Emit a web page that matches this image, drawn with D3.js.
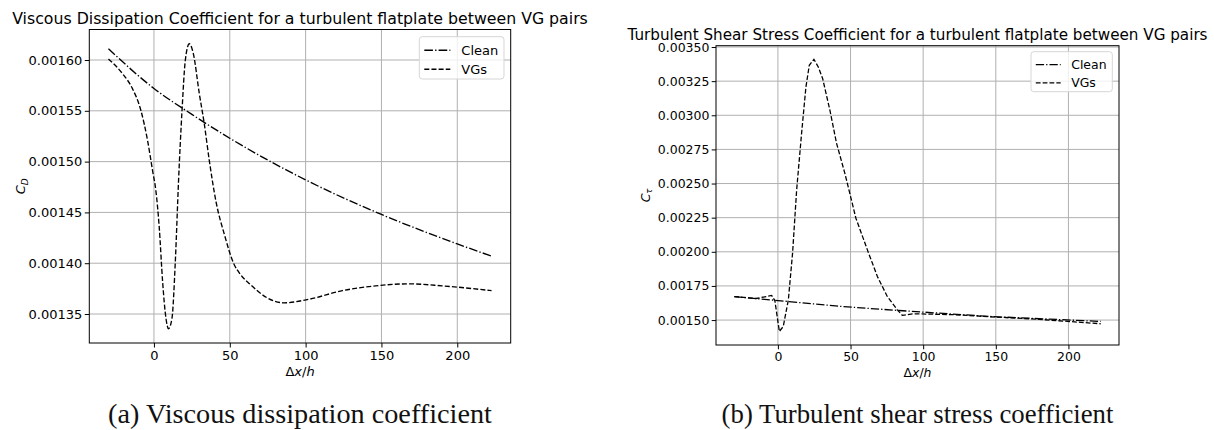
<!DOCTYPE html>
<html>
<head>
<meta charset="utf-8">
<script src="https://cdn.jsdelivr.net/npm/d3@7"></script>
<style>
  body { margin: 0; background: #fff; }
  svg { display: block; font-family: "DejaVu Sans", sans-serif; }
</style>
</head>
<body>
<svg id="chart" width="1214" height="430"></svg>
<script>
// ---------------------------------------------------------------
// DATA
// ---------------------------------------------------------------
const xTicks = [0, 50, 100, 150, 200];

// (a) viscous dissipation coefficient
const cdCleanX = [-30, 0, 25, 50, 100, 150, 200, 222.6];
const cdCleanY = [0.001611, 0.001572, 0.0015465, 0.001523, 0.001482, 0.001448, 0.001419, 0.001407];
const cdVgX = [-30, -20.7, -14.1, -8.6, -4.2, -0.9, 1.3, 3.5, 5.7, 7.9, 9.6, 11.9, 14.1, 16.3, 18.5, 20.7, 23.3, 26, 29.9, 33.2, 36.5, 41, 46.5, 52.5, 57, 63.6, 74.6, 85.6, 102.1, 124.2, 146.2, 168.2, 190.2, 222.6];
const cdVgY = [0.001601, 0.0015865, 0.0015716, 0.0015503, 0.0015207, 0.001491, 0.001471, 0.001435, 0.001382, 0.001346, 0.0013355, 0.001346, 0.001402, 0.001484, 0.00155, 0.0016, 0.001616, 0.001606, 0.001567, 0.001537, 0.001501, 0.00146, 0.001428, 0.0014, 0.001389, 0.001379, 0.001366, 0.001361, 0.0013645, 0.001373, 0.0013777, 0.0013797, 0.0013777, 0.001373];
const cdTicks = [0.00135, 0.00140, 0.00145, 0.00150, 0.00155, 0.00160];

// (b) turbulent shear stress coefficient
const ctCleanX = [-30, 0, 43.2, 83.3, 146.5, 222.2];
const ctCleanY = [0.001672, 0.001643, 0.0016, 0.00157, 0.001526, 0.00149];
const ctVgX = [-30, -15, -4.3, -2.1, 1, 3.7, 7.2, 10.1, 12.9, 16.3, 19.3, 21.6, 24.8, 27.8, 30.8, 35.8, 40.4, 46.1, 53.7, 61.6, 68.5, 75.3, 82.2, 85.7, 92.6, 120, 146.5, 180, 222.2];
const ctVgY = [0.001672, 0.001658, 0.00168, 0.001643, 0.001417, 0.001453, 0.001648, 0.00199, 0.002452, 0.002867, 0.003208, 0.003366, 0.00341, 0.003354, 0.003269, 0.003037, 0.002794, 0.002575, 0.002246, 0.002014, 0.001819, 0.001673, 0.001575, 0.001534, 0.001546, 0.00154, 0.001524, 0.001505, 0.001473];
const ctTicks = [0.00150, 0.00175, 0.00200, 0.00225, 0.00250, 0.00275, 0.00300, 0.00325, 0.00350];

const legendNames = ["Clean", "VGs"];

// ---------------------------------------------------------------
// DRAWING
// ---------------------------------------------------------------
const svg = d3.select("#chart");

function zip(xs, ys) { return xs.map((x, i) => [x, ys[i]]); }

function panel(opt) {
    const { left, right, top, bottom, fs } = opt;
    const k = fs / 13;           // the right figure is printed a bit smaller
    const lw = 1.35 * k;
    const allX = opt.series.flatMap(s => s.data.map(d => d[0]));
    const allY = opt.series.flatMap(s => s.data.map(d => d[1]));
    const xe = d3.extent(allX), ye = d3.extent(allY);
    const xm = (xe[1] - xe[0]) * 0.05, ym = (ye[1] - ye[0]) * 0.05;

    const x = d3.scaleLinear().domain([xe[0] - xm, xe[1] + xm]).range([left, right]);
    const y = d3.scaleLinear().domain([ye[0] - ym, ye[1] + ym]).range([bottom, top]);

    const g = svg.append("g");

    // grid
    g.append("g").selectAll("line").data(xTicks).join("line")
        .attr("x1", d => x(d)).attr("x2", d => x(d)).attr("y1", top).attr("y2", bottom)
        .attr("stroke", "#b0b0b0").attr("stroke-width", 1);
    g.append("g").selectAll("line").data(opt.yTicks).join("line")
        .attr("x1", left).attr("x2", right).attr("y1", d => y(d)).attr("y2", d => y(d))
        .attr("stroke", "#b0b0b0").attr("stroke-width", 1);

    // axes
    const xAxis = g.append("g").attr("transform", `translate(0,${bottom})`)
        .call(d3.axisBottom(x).tickValues(xTicks).tickFormat(d3.format("d")).tickSize(4.5 * k).tickPadding(3 * k));
    const yAxis = g.append("g").attr("transform", `translate(${left},0)`)
        .call(d3.axisLeft(y).tickValues(opt.yTicks).tickFormat(d3.format(".5f")).tickSize(4.5 * k).tickPadding(2.5 * k));
    [xAxis, yAxis].forEach(a => {
        a.select(".domain").remove();
        a.selectAll("line").attr("stroke", "#000").attr("stroke-width", 1);
        a.selectAll("text").attr("fill", "#000").style("font-size", fs + "px")
            .style("font-family", "DejaVu Sans");
    });

    // lines
    const clip = "clip" + opt.id;
    svg.append("clipPath").attr("id", clip).append("rect")
        .attr("x", left).attr("y", top).attr("width", right - left).attr("height", bottom - top);
    opt.series.forEach(s => {
        g.append("path").datum(s.data)
            .attr("clip-path", `url(#${clip})`)
            .attr("d", d3.line().x(d => x(d[0])).y(d => y(d[1])).curve(opt.curve))
            .attr("fill", "none").attr("stroke", "#000").attr("stroke-width", lw)
            .attr("stroke-dasharray", s.dash.map(v => v * lw).join(","));
    });

    // frame
    g.append("rect").attr("x", left).attr("y", top).attr("width", right - left).attr("height", bottom - top)
        .attr("fill", "none").attr("stroke", "#000").attr("stroke-width", 1);

    // title
    const title = g.append("text").attr("x", (left + right) / 2).attr("y", opt.titleY)
        .attr("text-anchor", "middle").style("font-size", fs + "px").text(opt.title);
    const tw = title.node().getComputedTextLength();
    title.style("font-size", (fs * opt.titleW / tw) + "px");

    // x label  Δx/h
    const xl = g.append("text").attr("x", (left + right) / 2).attr("y", bottom + 33 * k)
        .attr("text-anchor", "middle").style("font-size", fs + "px");
    xl.append("tspan").text("Δ");
    xl.append("tspan").style("font-style", "italic").text("x");
    xl.append("tspan").text("/");
    xl.append("tspan").style("font-style", "italic").text("h");

    // y label
    const yl = g.append("text")
        .attr("transform", `translate(${opt.yLabelX},${(top + bottom) / 2}) rotate(-90)`)
        .attr("text-anchor", "middle").style("font-size", fs + "px");
    yl.append("tspan").style("font-style", "italic").text("C");
    yl.append("tspan").style("font-style", "italic").style("font-size", (fs * 0.7) + "px")
        .attr("dy", 2.5 * k).text(opt.sub);

    // legend
    const lg = g.append("g").attr("transform", `translate(${opt.legX},${opt.legY})`);
    lg.append("rect").attr("width", opt.legW).attr("height", opt.legH).attr("rx", 3 * k)
        .attr("fill", "#fff").attr("fill-opacity", 0.8).attr("stroke", "#d6d6d6").attr("stroke-width", 1);
    opt.series.forEach((s, i) => {
        const cy = (13.5 + i * 19) * k;
        lg.append("line").attr("x1", 5 * k).attr("x2", 31 * k).attr("y1", cy).attr("y2", cy)
            .attr("stroke", "#000").attr("stroke-width", lw)
            .attr("stroke-dasharray", s.dash.map(v => v * lw).join(","));
        lg.append("text").attr("x", 42 * k).attr("y", cy + 4.5 * k)
            .style("font-size", fs + "px").text(legendNames[i]);
    });

    // caption (LaTeX-like serif)
    const cap = svg.append("text").attr("x", (left + right) / 2).attr("y", 423)
        .attr("text-anchor", "middle")
        .style("font-family", "'Liberation Serif', 'DejaVu Serif', serif")
        .style("font-size", "22px").attr("fill", "#111").text(opt.caption);
    const cw = cap.node().getComputedTextLength();
    cap.style("font-size", (22 * opt.capW / cw) + "px");
}

const dashDot = [6.4, 1.6, 1, 1.6];
const dashed = [3.7, 1.6];

panel({
    id: "a", left: 89.3, right: 510.7, top: 29.5, bottom: 343, fs: 13,
    yTicks: cdTicks, curve: d3.curveMonotoneX,
    series: [
        { data: zip(cdCleanX, cdCleanY), dash: dashDot },
        { data: zip(cdVgX, cdVgY), dash: dashed }
    ],
    title: "Viscous Dissipation Coefficient for a turbulent flatplate between VG pairs",
    titleY: 24.3, titleW: 576,
    yLabelX: 25, sub: "D",
    legX: 419.3, legY: 36.7, legW: 84.7, legH: 42.3,
    caption: "(a) Viscous dissipation coefficient", capW: 384
});

panel({
    id: "b", left: 716, right: 1119, top: 45.7, bottom: 345, fs: 12.45,
    yTicks: ctTicks, curve: d3.curveLinear,
    series: [
        { data: zip(ctCleanX, ctCleanY), dash: dashDot },
        { data: zip(ctVgX, ctVgY), dash: dashed }
    ],
    title: "Turbulent Shear Stress Coefficient for a turbulent flatplate between VG pairs",
    titleY: 40, titleW: 580,
    yLabelX: 650, sub: "τ",
    legX: 1031, legY: 51.7, legW: 81.3, legH: 40,
    caption: "(b) Turbulent shear stress coefficient", capW: 392
});
</script>
</body>
</html>
